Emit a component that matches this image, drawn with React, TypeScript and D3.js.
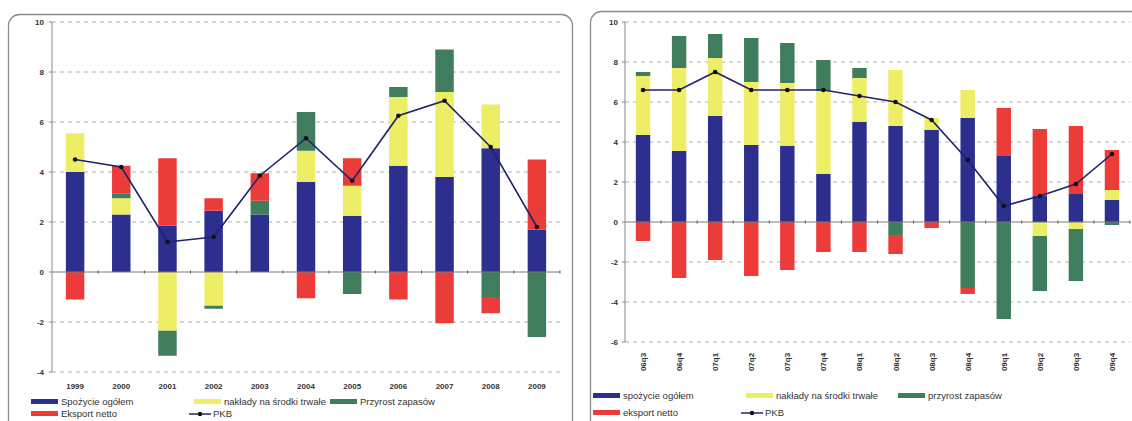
import React from "react";
import * as d3 from "d3";

const years = ["1999", "2000", "2001", "2002", "2003", "2004", "2005", "2006", "2007", "2008", "2009"];
const spozycieA = [4.0, 2.3, 1.85, 2.45, 2.3, 3.6, 2.25, 4.25, 3.8, 4.95, 1.7];
const nakladyA = [1.55, 0.65, -2.35, -1.35, 0, 1.25, 1.2, 2.75, 3.4, 1.75, 0];
const zapasyA = [0, 0.2, -1.0, -0.12, 0.55, 1.55, -0.88, 0.4, 1.7, -1.0, -2.6];
const eksportA = [-1.1, 1.1, 2.7, 0.5, 1.1, -1.05, 1.1, -1.1, -2.05, -0.65, 2.8];
const pkbA = [4.5, 4.2, 1.2, 1.4, 3.85, 5.35, 3.65, 6.25, 6.85, 5.0, 1.8];
const ticksA = [-4, -2, 0, 2, 4, 6, 8, 10];

const quarters = ["06q3", "06q4", "07q1", "07q2", "07q3", "07q4", "08q1", "08q2", "08q3", "08q4", "09q1", "09q2", "09q3", "09q4"];
const spozycieB = [4.35, 3.55, 5.3, 3.85, 3.8, 2.4, 5.0, 4.8, 4.6, 5.2, 3.3, 1.3, 1.4, 1.1];
const nakladyB = [2.95, 4.15, 2.9, 3.15, 3.15, 4.15, 2.2, 2.8, 0.6, 1.4, 0, -0.7, -0.35, 0.5];
const zapasyB = [0.2, 1.6, 1.2, 2.2, 2.0, 1.55, 0.5, -0.65, 0, -3.3, -4.85, -2.75, -2.6, -0.15];
const eksportB = [-0.95, -2.8, -1.9, -2.7, -2.4, -1.5, -1.5, -0.95, -0.3, -0.3, 2.4, 3.35, 3.4, 2.0];
const pkbB = [6.6, 6.6, 7.5, 6.6, 6.6, 6.6, 6.3, 6.0, 5.1, 3.1, 0.8, 1.3, 1.9, 3.4];
const ticksB = [-6, -4, -2, 0, 2, 4, 6, 8, 10];

const legendA = ["Spożycie ogółem", "nakłady na środki trwałe", "Przyrost zapasów", "Eksport netto", "PKB"];
const legendB = ["spożycie ogółem", "nakłady na środki trwałe", "przyrost zapasów", "eksport netto", "PKB"];

const KEYS = ["s", "n", "z", "e"];
const COLORS: Record<string, string> = { s: "#2d2f8f", n: "#eeee66", z: "#3f7d5c", e: "#ec3c3a" };
const LINE = "#1f2468";
const FONT = "'Liberation Sans', Arial, sans-serif";

type PanelProps = {
  cats: string[];
  s: number[]; n: number[]; z: number[]; e: number[]; pkb: number[];
  ticks: number[];
  x0: number; x1: number; yTop: number; yBot: number;
  barPad: number;
  rotateLabels: boolean;
  labelY: number;
  tickLabelX: number;
  legend: string[];
  legendX: number[];
  legendY: number[];
  frame: { x: number; y: number; w: number; h: number };
};

function Panel(p: PanelProps) {
  const x = d3.scaleBand<string>().domain(p.cats).range([p.x0, p.x1]).paddingInner(p.barPad).paddingOuter(p.barPad / 2);
  const dom = d3.extent(p.ticks) as [number, number];
  const y = d3.scaleLinear().domain(dom).range([p.yBot, p.yTop]);
  const rows = p.cats.map((c, i) => ({ cat: c, s: p.s[i], n: p.n[i], z: p.z[i], e: p.e[i] }));
  const stack = d3.stack<any>().keys(KEYS).offset(d3.stackOffsetDiverging)(rows);
  const line = d3.line<number>().x((_, i) => (x(p.cats[i]) as number) + x.bandwidth() / 2).y((v) => y(v));
  const step = x.step();
  return (
    <g fontFamily={FONT}>
      <rect x={p.frame.x} y={p.frame.y} width={p.frame.w} height={p.frame.h} rx={11} fill="none" stroke="#8a8a8a" strokeWidth={1.3} />
      {p.ticks.map((t) => (
        <g key={t}>
          {t !== 0 && (
            <line x1={p.x0} x2={p.x1} y1={y(t)} y2={y(t)} stroke="#b0b0b0" strokeDasharray="4,4" strokeWidth={1} />
          )}
          <line x1={p.x0 - 3} x2={p.x0} y1={y(t)} y2={y(t)} stroke="#888" />
          <text x={p.tickLabelX} y={y(t) + 3} fontSize={8} fontWeight="bold" fill="#333" textAnchor="end">{t}</text>
        </g>
      ))}
      {stack.map((layer) => (
        <g key={layer.key} fill={COLORS[layer.key]}>
          {layer.map((d, i) => {
            const a = y(d[0]), b = y(d[1]);
            if (Math.abs(a - b) < 0.01) return null;
            return <rect key={i} x={x(p.cats[i])} width={x.bandwidth()} y={Math.min(a, b)} height={Math.abs(a - b)} />;
          })}
        </g>
      ))}
      <line x1={p.x0} x2={p.x1} y1={y(0)} y2={y(0)} stroke="#7a7a7a" strokeWidth={1} />
      {p.cats.map((c, i) => (
        <line key={c} x1={p.x0 + step * (i + 1)} x2={p.x0 + step * (i + 1)} y1={y(0) - 1.5} y2={y(0) + 1.5} stroke="#555" />
      ))}
      <line x1={p.x0} x2={p.x0} y1={p.yTop} y2={p.yBot} stroke="#888" strokeWidth={1} />
      <path d={line(p.pkb) || ""} fill="none" stroke={LINE} strokeWidth={1.6} />
      {p.pkb.map((v, i) => (
        <circle key={i} cx={(x(p.cats[i]) as number) + x.bandwidth() / 2} cy={y(v)} r={2.3} fill="#111" />
      ))}
      {p.cats.map((c) => {
        const cx = (x(c) as number) + x.bandwidth() / 2;
        return p.rotateLabels ? (
          <text key={c} transform={`translate(${cx + 3},${p.labelY}) rotate(-90)`} fontSize={8} fontWeight="bold" fill="#333" textAnchor="middle">{c}</text>
        ) : (
          <text key={c} x={cx} y={p.labelY} fontSize={8} fontWeight="bold" fill="#333" textAnchor="middle">{c}</text>
        );
      })}
      {[0, 1, 2, 3].map((k) => {
        const col = [0, 1, 2, 0][k];
        const row = k === 3 ? 1 : 0;
        const lx = p.legendX[col], ly = p.legendY[row];
        return (
          <g key={k}>
            <rect x={lx} y={ly - 3} width={27} height={5} fill={COLORS[KEYS[k]]} />
            <text x={lx + 30} y={ly + 3} fontSize={9.5} fill="#333">{p.legend[k]}</text>
          </g>
        );
      })}
      <g>
        <line x1={p.legendX[1] - 5} x2={p.legendX[1] + 17} y1={p.legendY[1]} y2={p.legendY[1]} stroke={LINE} strokeWidth={1.5} />
        <circle cx={p.legendX[1] + 6} cy={p.legendY[1]} r={2.2} fill="#111" />
        <text x={p.legendX[1] + 19} y={p.legendY[1] + 3} fontSize={9.5} fill="#333">{p.legend[4]}</text>
      </g>
    </g>
  );
}

export default function App() {
  return (
    <div style={{ position: "absolute", left: 0, top: 0 }}>
      <svg width={1132} height={421} style={{ display: "block", background: "#fff" }}>
        <Panel
          cats={years} s={spozycieA} n={nakladyA} z={zapasyA} e={eksportA} pkb={pkbA}
          ticks={ticksA} x0={52} x1={560} yTop={22} yBot={372} barPad={0.6}
          rotateLabels={false} labelY={389} tickLabelX={44}
          legend={legendA} legendX={[31, 194, 330]} legendY={[402, 414]}
          frame={{ x: 8.5, y: 14.5, w: 564, h: 430 }}
        />
        <Panel
          cats={quarters} s={spozycieB} n={nakladyB} z={zapasyB} e={eksportB} pkb={pkbB}
          ticks={ticksB} x0={625} x1={1130} yTop={22} yBot={342} barPad={0.6}
          rotateLabels={true} labelY={362} tickLabelX={618}
          legend={legendB} legendX={[593, 746, 898]} legendY={[396, 413]}
          frame={{ x: 590.5, y: 11.5, w: 560, h: 430 }}
        />
      </svg>
    </div>
  );
}
